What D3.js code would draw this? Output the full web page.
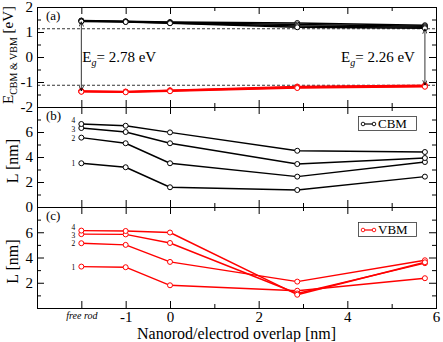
<!DOCTYPE html>
<html>
<head>
<meta charset="utf-8">
<script src="https://cdn.jsdelivr.net/npm/d3@7"></script>
<style>
  body { margin: 0; background: #fff; }
</style>
</head>
<body>
<div id="chart"></div>
<script>
// positions of the nanorod relative to the electrode (free rod drawn at -2)
const overlap = [-2, -1, 0, 2.87, 5.75];
const stateNames = ["1", "2", "3", "4"];

// panel (a): band edge energies [eV]
const cbmEnergy = [
  [1.46, 1.43, 1.40, 1.36, 1.27],
  [1.45, 1.42, 1.38, 1.30, 1.23],
  [1.44, 1.41, 1.36, 1.24, 1.19],
  [1.42, 1.40, 1.35, 1.19, 1.15]
];
const vbmEnergy = [
  [-1.36, -1.38, -1.33, -1.18, -1.13],
  [-1.37, -1.39, -1.34, -1.20, -1.15],
  [-1.38, -1.40, -1.35, -1.22, -1.17],
  [-1.39, -1.41, -1.37, -1.24, -1.19]
];
const gapLevels = [1.13, -1.13];
const gapLeft = [1.42, -1.36];
const gapLabels = ["2.78 eV", "2.26 eV"];

// panels (b) and (c): localisation length L [nm]
const cbmLength = [
  [3.50, 3.18, 1.58, 1.36, 2.43],
  [5.55, 5.10, 3.50, 2.43, 3.60],
  [6.32, 6.00, 5.10, 3.44, 3.92],
  [6.64, 6.50, 5.97, 4.50, 4.40]
];
const vbmLength = [
  [3.28, 3.23, 1.80, 1.37, 2.36],
  [5.13, 5.00, 3.65, 2.09, 3.78],
  [5.85, 5.83, 5.15, 1.15, 3.55],
  [6.13, 6.10, 5.98, 1.05, 3.62]
];

const xMajor = [-2, -1, 0, 2, 4, 6];
const xMinor = [1, 3, 5];

const width = 443, height = 342;
const left = 37, right = 436;
const red = "#ff0000";
const serif = "'Liberation Serif', 'Times New Roman', Times, 'DejaVu Serif', serif";

const svg = d3.select("#chart").append("svg")
    .attr("width", width)
    .attr("height", height)
    .attr("font-family", serif);

const defs = svg.append("defs");
defs.append("marker")
    .attr("id", "arr")
    .attr("viewBox", "0 0 8 8")
    .attr("refX", 8)
    .attr("refY", 4)
    .attr("markerWidth", 5)
    .attr("markerHeight", 5)
    .attr("markerUnits", "userSpaceOnUse")
    .attr("orient", "auto-start-reverse")
  .append("path")
    .attr("d", "M0,0.5 L8,4 L0,7.5")
    .attr("fill", "none")
    .attr("stroke", "black")
    .attr("stroke-width", 1.2);

const xScale = d3.scaleLinear().domain([-3, 6]).range([left, right]);

const panels = [
  {top: 7, bottom: 107, domain: [-2, 2], major: [-2, -1, 0, 1, 2], minor: [-1.5, -0.5, 0.5, 1.5], labels: [-2, -1, 0, 1, 2], name: "(a)"},
  {top: 107, bottom: 207, domain: [0, 8], major: [0, 2, 4, 6, 8], minor: [1, 3, 5, 7], labels: [0, 2, 4, 6], name: "(b)"},
  {top: 207, bottom: 308, domain: [0, 8], major: [0, 2, 4, 6, 8], minor: [1, 3, 5, 7], labels: [2, 4, 6], name: "(c)"}
];

panels.forEach((p, i) => {
  p.y = d3.scaleLinear().domain(p.domain).range([p.bottom, p.top]);
  const g = svg.append("g").attr("class", "panel");
  p.g = g;

  const noLabel = () => "";
  g.append("g").attr("transform", `translate(${left},0)`)
    .call(d3.axisLeft(p.y).tickValues(p.major).tickSizeInner(-7).tickSizeOuter(0).tickPadding(4)
      .tickFormat(d => p.labels.includes(d) ? String(d) : ""));
  g.append("g").attr("transform", `translate(${left},0)`)
    .call(d3.axisLeft(p.y).tickValues(p.minor).tickSizeInner(-4).tickSizeOuter(0).tickFormat(noLabel));
  g.append("g").attr("transform", `translate(${right},0)`)
    .call(d3.axisRight(p.y).tickValues(p.major).tickSizeInner(-7).tickSizeOuter(0).tickFormat(noLabel));
  g.append("g").attr("transform", `translate(${right},0)`)
    .call(d3.axisRight(p.y).tickValues(p.minor).tickSizeInner(-4).tickSizeOuter(0).tickFormat(noLabel));

  g.append("g").attr("transform", `translate(0,${p.top})`)
    .call(d3.axisTop(xScale).tickValues(xMajor).tickSizeInner(-7).tickSizeOuter(0).tickFormat(noLabel));
  g.append("g").attr("transform", `translate(0,${p.top})`)
    .call(d3.axisTop(xScale).tickValues(xMinor).tickSizeInner(-4).tickSizeOuter(0).tickFormat(noLabel));
  const xb = g.append("g").attr("transform", `translate(0,${p.bottom})`)
    .call(d3.axisBottom(xScale).tickValues(xMajor).tickSizeInner(-7).tickSizeOuter(0).tickPadding(3)
      .tickFormat(d => i === 2 ? (d === -2 ? "free rod" : String(d)) : ""));
  g.append("g").attr("transform", `translate(0,${p.bottom})`)
    .call(d3.axisBottom(xScale).tickValues(xMinor).tickSizeInner(-4).tickSizeOuter(0).tickFormat(noLabel));

  g.selectAll(".domain").remove();
  g.selectAll(".tick line").attr("stroke", "black");
  g.selectAll("g").attr("font-family", serif);
  g.selectAll(".tick text")
    .attr("fill", "black")
    .style("font-size", "15px");
  xb.selectAll(".tick text")
    .filter(d => d === -2)
    .style("font-size", "10px")
    .style("font-style", "italic")
    .attr("y", 4);

  g.append("rect")
    .attr("x", left + 0.5)
    .attr("y", p.top + 0.5)
    .attr("width", right - left)
    .attr("height", p.bottom - p.top)
    .attr("fill", "none")
    .attr("stroke", "black");

  g.append("text")
    .attr("x", left + 9)
    .attr("y", p.top + 13)
    .style("font-size", "13px")
    .text(p.name);
});

const line = (yScale) => d3.line()
    .x((d, i) => xScale(overlap[i]))
    .y(d => yScale(d));

function drawSeries(p, series, color, width) {
  p.g.selectAll(null)
    .data(series)
    .join("path")
      .attr("fill", "none")
      .attr("stroke", color)
      .attr("stroke-width", width)
      .attr("stroke-linejoin", "round")
      .attr("d", d => line(p.y)(d));
  series.forEach(s => {
    p.g.selectAll(null)
      .data(s)
      .join("circle")
        .attr("cx", (d, i) => xScale(overlap[i]))
        .attr("cy", d => p.y(d))
        .attr("r", 2.5)
        .attr("fill", "white")
        .attr("stroke", color)
        .attr("stroke-width", 1);
  });
}

// panel (a)
const pa = panels[0];
pa.g.selectAll(".gap")
  .data(gapLevels)
  .join("line")
    .attr("x1", left)
    .attr("x2", right)
    .attr("y1", d => pa.y(d))
    .attr("y2", d => pa.y(d))
    .attr("stroke", "black")
    .attr("stroke-width", 0.8)
    .attr("stroke-dasharray", "3,2");

drawSeries(pa, cbmEnergy, "black", 1.6);
drawSeries(pa, vbmEnergy, red, 1.6);

const arrows = [
  {x: overlap[0], y1: gapLeft[0], y2: gapLeft[1]},
  {x: overlap[4], y1: gapLevels[0], y2: gapLevels[1]}
];
pa.g.selectAll(".arrow")
  .data(arrows)
  .join("line")
    .attr("x1", d => xScale(d.x))
    .attr("x2", d => xScale(d.x))
    .attr("y1", d => pa.y(d.y1))
    .attr("y2", d => pa.y(d.y2))
    .attr("stroke", "black")
    .attr("stroke-width", 0.8)
    .attr("marker-start", "url(#arr)")
    .attr("marker-end", "url(#arr)");

const gapText = pa.g.selectAll(".gaptext")
  .data(gapLabels)
  .join("text")
    .attr("x", (d, i) => i === 0 ? xScale(overlap[0]) + 1 : xScale(overlap[4]) - 10)
    .attr("y", pa.y(0) + 5)
    .attr("text-anchor", (d, i) => i === 0 ? "start" : "end")
    .style("font-size", "15px");
gapText.append("tspan").text("E");
gapText.append("tspan").attr("dy", 4).style("font-size", "10px").style("font-style", "italic").text("g");
gapText.append("tspan").attr("dy", -4).text(d => "= " + d);

// panels (b) and (c)
const pb = panels[1], pc = panels[2];
drawSeries(pb, cbmLength, "black", 1.4);
drawSeries(pc, vbmLength, red, 1.4);

[[pb, cbmLength], [pc, vbmLength]].forEach(([p, series]) => {
  p.g.selectAll(".state")
    .data(series)
    .join("text")
      .attr("x", xScale(overlap[0]) - 6)
      .attr("y", (d, i) => p.y(d[0]) + 3 - (i === 3 ? 4 : 0) + (i === 2 ? 1 : 0))
      .attr("text-anchor", "end")
      .style("font-size", "7.5px")
      .text((d, i) => stateNames[i]);
});

// legends
const legends = [
  {p: pb, y: 124, label: "CBM", color: "black"},
  {p: pc, y: 230, label: "VBM", color: red}
];
legends.forEach(l => {
  const g = svg.append("g");
  g.append("rect")
    .attr("x", 358.5).attr("y", l.y - 7.5)
    .attr("width", 58).attr("height", 14)
    .attr("fill", "white").attr("stroke", "#333").attr("stroke-width", 0.8);
  g.append("line")
    .attr("x1", 363).attr("x2", 374).attr("y1", l.y).attr("y2", l.y)
    .attr("stroke", l.color).attr("stroke-width", 1.2);
  g.selectAll("circle").data([363, 374]).join("circle")
    .attr("cx", d => d).attr("cy", l.y).attr("r", 1.8)
    .attr("fill", "white").attr("stroke", l.color).attr("stroke-width", 0.9);
  g.append("text")
    .attr("x", 378).attr("y", l.y + 4)
    .style("font-size", "13px")
    .text(l.label);
});

// axis titles
const yTitleA = svg.append("text")
    .attr("transform", `translate(13,${pa.y(0) - 2}) rotate(-90)`)
    .attr("text-anchor", "middle")
    .style("font-size", "15px");
yTitleA.append("tspan").text("E");
yTitleA.append("tspan").attr("dy", 4).style("font-size", "10px").text("CBM & VBM");
yTitleA.append("tspan").attr("dy", -4).text(" [eV]");

[pb, pc].forEach(p => {
  svg.append("text")
    .attr("transform", `translate(18,${(p.top + p.bottom) / 2 + 4}) rotate(-90)`)
    .attr("text-anchor", "middle")
    .style("font-size", "16px")
    .text("L [nm]");
});

svg.append("text")
    .attr("x", (left + right) / 2)
    .attr("y", 339)
    .attr("text-anchor", "middle")
    .style("font-size", "16px")
    .text("Nanorod/electrod overlap [nm]");
</script>
</body>
</html>
